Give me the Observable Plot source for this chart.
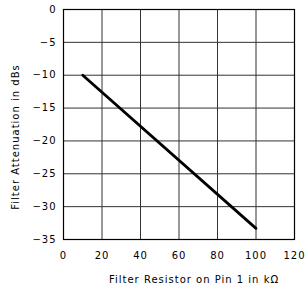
<!DOCTYPE html>
<html>
<head>
<meta charset="utf-8">
<script src="https://cdn.jsdelivr.net/npm/d3@7"></script>
<script src="https://cdn.jsdelivr.net/npm/@observablehq/plot@0.6"></script>
<style>
body { margin: 0; background: #fff; }
</style>
</head>
<body>
<div id="chart"></div>
<script>
const resistorK = [10, 100];
const attenuationDb = [-10, -33.3];
const xTicks = [0, 20, 40, 60, 80, 100, 120];
const yTicks = [0, -5, -10, -15, -20, -25, -30, -35];
const xLabel = "Filter Resistor on Pin 1 in kΩ";
const yLabel = "Filter Attenuation in dBs";

const data = resistorK.map((x, i) => ({x, y: attenuationDb[i]}));
const ls = 1; // letter spacing, px

const chart = Plot.plot({
  width: 305,
  height: 290,
  marginLeft: 63,
  marginRight: 11,
  marginTop: 9,
  marginBottom: 51,
  style: {fontFamily: "DejaVu Sans", fontSize: "10px", letterSpacing: ls + "px", color: "#000", background: "#fff"},
  x: {domain: [0, 120]},
  y: {domain: [-35, 0]},
  marks: [
    Plot.ruleX(xTicks, {stroke: "#333", strokeWidth: 1}),
    Plot.ruleY(yTicks, {stroke: "#333", strokeWidth: 1}),
    Plot.frame({stroke: "#000", strokeWidth: 1.2}),
    Plot.line(data, {x: "x", y: "y", stroke: "#000", strokeWidth: 2.8}),
    Plot.axisY(yTicks, {tickSize: 0, tickPadding: 7, label: null}),
    Plot.axisX(xTicks, {tickSize: 0, tickPadding: 12, label: null}),
    Plot.text([xLabel], {frameAnchor: "bottom", dy: 40, dx: xLabel.length * ls / 2, textAnchor: "middle", lineAnchor: "middle", fill: "#000"}),
    Plot.text([yLabel], {frameAnchor: "left", rotate: -90, dx: -48, dy: yLabel.length * ls / 2, textAnchor: "middle", lineAnchor: "middle", fill: "#000"})
  ]
});
document.getElementById("chart").appendChild(chart);
</script>
</body>
</html>
